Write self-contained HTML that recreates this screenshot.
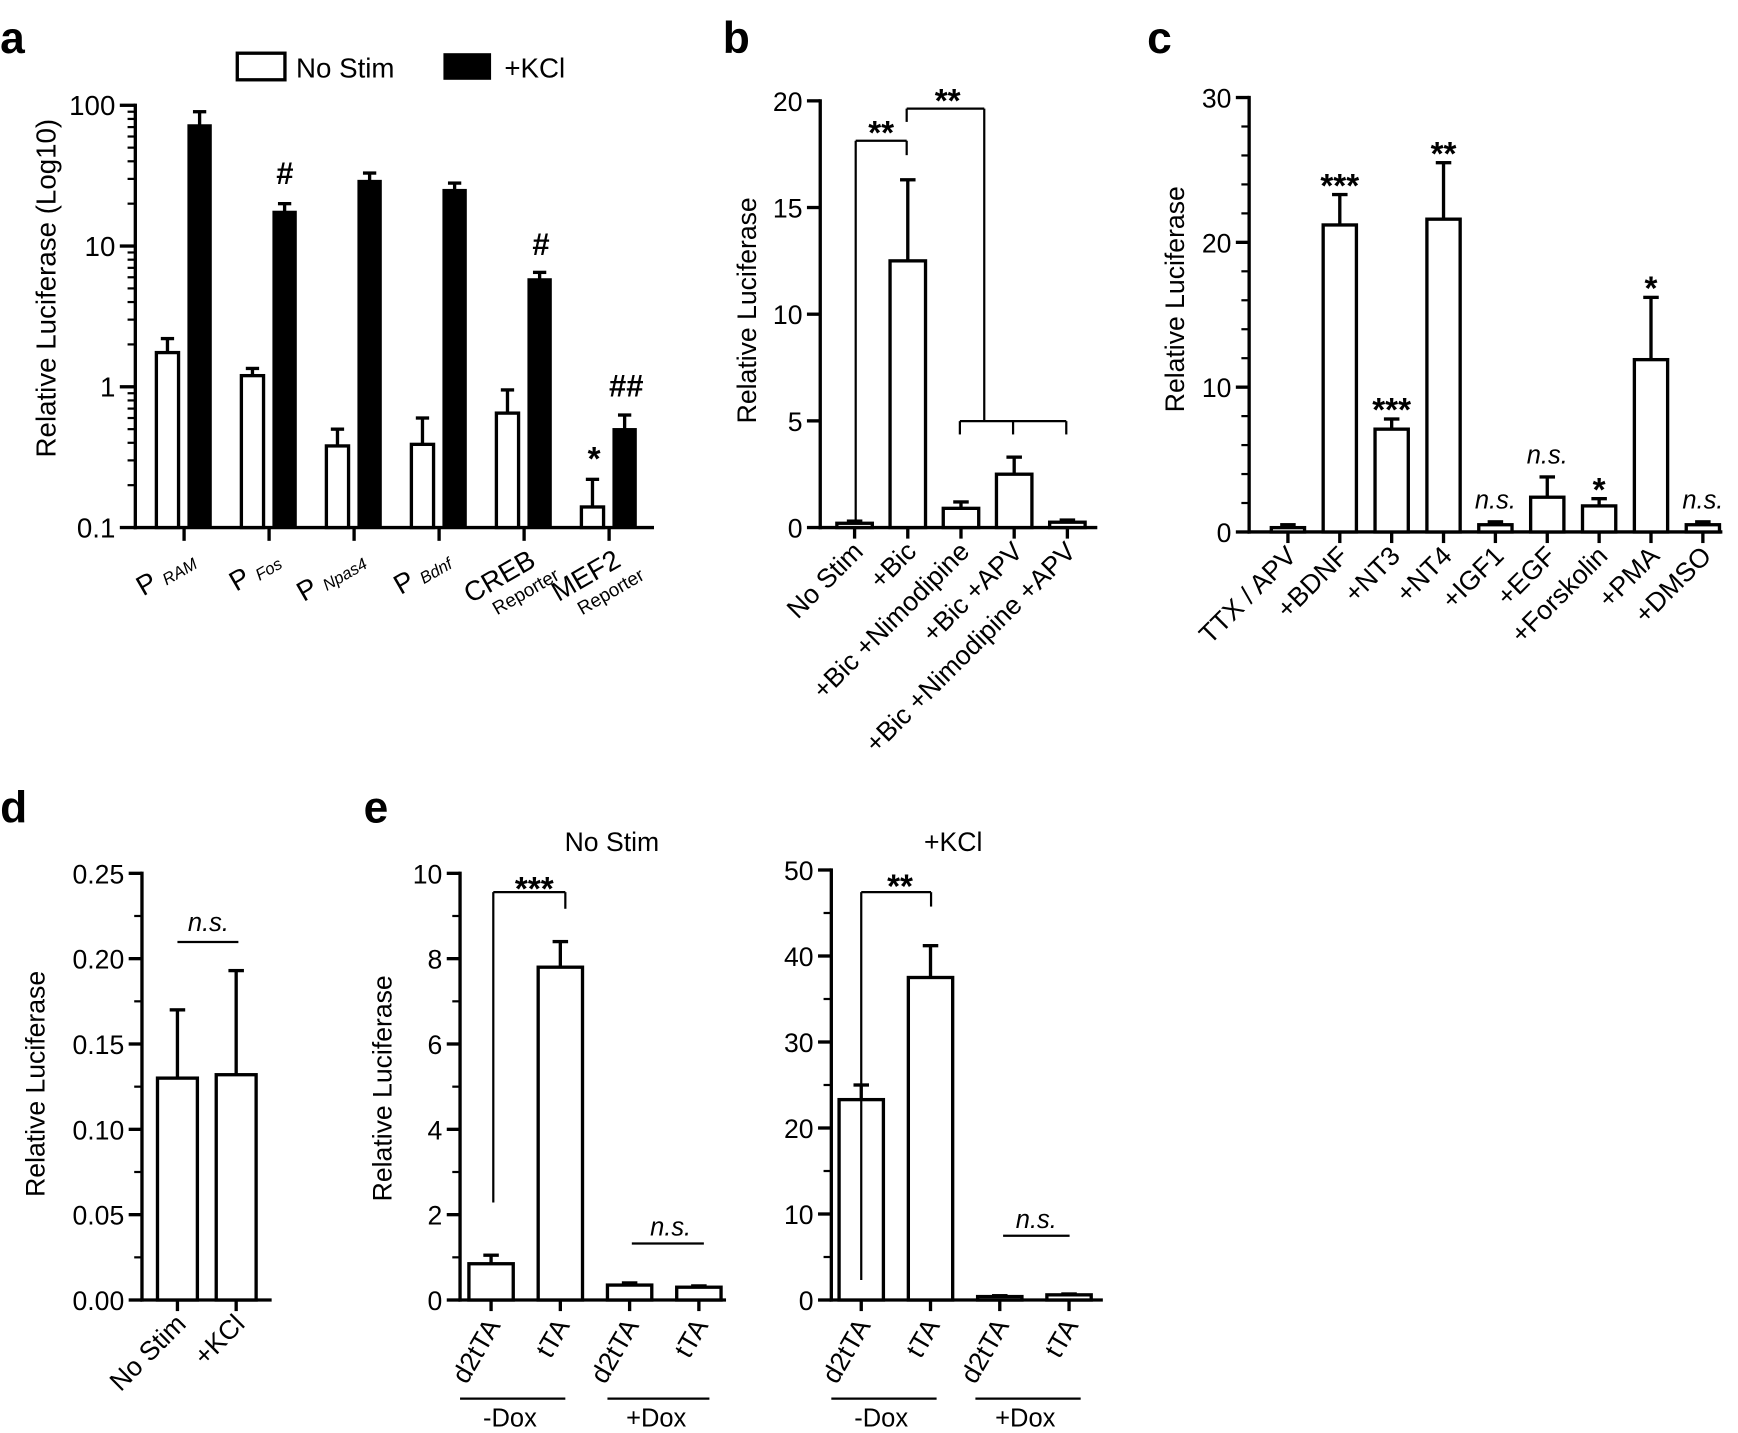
<!DOCTYPE html>
<html><head><meta charset="utf-8"><style>
body{margin:0;background:#fff;}
svg{display:block;font-family:"Liberation Sans",Arial,sans-serif;}
</style></head><body>
<svg id="fig" width="1738" height="1433" viewBox="0 0 1568 1293" xmlns="http://www.w3.org/2000/svg">
<rect width="1568" height="1293" fill="#fff"/>
<g font-weight="bold" font-size="40">
<text x="0" y="48">a</text>
<text x="652" y="48">b</text>
<text x="1035" y="48">c</text>
<text x="0" y="742">d</text>
<text x="328" y="742">e</text>
</g>
<g id="root"></g>
</svg>
<script>
// Panel a (log scale)
const aCats=["RAM","Fos","Npas4","Bdnf","CREB","MEF2"];
const aNoStim=[1.75,1.2,0.38,0.39,0.65,0.14];
const aNoStimErr=[2.2,1.35,0.5,0.6,0.95,0.22];
const aKCl=[72,17.5,29,25,5.8,0.5];
const aKClErr=[90,20,33,28,6.5,0.63];
const aTicks=[0.1,1,10,100];
// Panel b
const bCats=["No Stim","+Bic","+Bic +Nimodipine","+Bic +APV","+Bic +Nimodipine +APV"];
const bVals=[0.2,12.5,0.9,2.5,0.25];
const bErr=[0.3,16.3,1.2,3.3,0.35];
const bTicks=[0,5,10,15,20];
// Panel c
const cCats=["TTX / APV","+BDNF","+NT3","+NT4","+IGF1","+EGF","+Forskolin","+PMA","+DMSO"];
const cVals=[0.3,21.2,7.1,21.6,0.5,2.4,1.8,11.9,0.5];
const cErr=[0.5,23.3,7.8,25.5,0.7,3.8,2.3,16.2,0.7];
const cSig=["","***","***","**","n.s.","n.s.","*","*","n.s."];
const cTicks=[0,10,20,30];
// Panel d
const dCats=["No Stim","+KCl"];
const dVals=[0.13,0.132];
const dErr=[0.17,0.193];
const dTicks=[0,0.05,0.10,0.15,0.20,0.25];
// Panel e
const eCats=["d2tTA","tTA","d2tTA","tTA"];
const eLeftVals=[0.85,7.8,0.35,0.3];
const eLeftErr=[1.05,8.4,0.4,0.33];
const eLeftTicks=[0,2,4,6,8,10];
const eRightVals=[23.3,37.5,0.4,0.6];
const eRightErr=[25,41.2,0.5,0.7];
const eRightTicks=[0,10,20,30,40,50];

const NS="http://www.w3.org/2000/svg";
const root=document.getElementById('root');
function mk(tag,attrs,parent,txt){const e=document.createElementNS(NS,tag);for(const k in attrs)e.setAttribute(k,attrs[k]);if(txt!==undefined)e.textContent=txt;(parent||root).appendChild(e);return e;}
function ln(x1,y1,x2,y2,w,p){return mk('line',{x1,y1,x2,y2,stroke:'#000','stroke-width':w||3},p);}
function txt(x,y,s,size,anchor,p,extra){const e=mk('text',Object.assign({x,y,'font-size':size,'text-anchor':anchor||'middle'},extra||{}),p,s);return e;}

function linearPanel(o){
  const g=mk('g',{});
  
  
  const y=v=>o.y0-(v-o.min)/(o.max-o.min)*(o.y0-o.yTop);
  ln(o.ax,o.y0+1.5,o.ax,o.yTop-1.5,3,g);
  ln(o.ax-1.5,o.y0,o.axEnd,o.y0,3,g);
  o.ticks.forEach(t=>{const yy=y(t);ln(o.ax-12,yy,o.ax,yy,3,g);
    const tl=txt(o.ax-16,yy+9,o.fmt?o.fmt(t):String(t),24,'end',g);
    
    });
  if(o.minor){for(let v=o.min;v<=o.max+1e-9;v+=o.minor){ln(o.ax-7,y(v),o.ax,y(v),2,g);}}
  const yl=txt(0,0,'Relative Luciferase',24,'middle',g,{transform:`translate(${o.ylx},${o.yly}) rotate(-90)`});
  
  
  o.vals.forEach((v,i)=>{const cx=o.x0+i*o.dx;
    const b=mk('rect',{x:cx-o.bw/2,y:y(v),width:o.bw,height:o.y0-y(v),fill:'#fff',stroke:'#000','stroke-width':3},g);
    
    
    ln(cx,y(v),cx,y(o.err[i]),3,g);ln(cx-7,y(o.err[i]),cx+7,y(o.err[i]),3,g);
    ln(cx,o.y0,cx,o.y0+10,3,g);
    const l=txt(0,0,o.cats[i],24,'end',g,{transform:`translate(${cx+9},${o.y0+23}) rotate(${o.rot})`});
    
    
  });
  return {g,y};
}

// ---- Panel a ----
(function(){
  const g=mk('g',{});
  
  
  const ax=122,y0=476,dec=127;
  const y=v=>y0-(Math.log10(v)+1)*dec;
  ln(ax,y0+1.5,ax,y(100)-1.5,3,g);ln(ax-1.5,y0,590,y0,3,g);
  aTicks.forEach(t=>{ln(ax-14,y(t),ax,y(t),3,g);const l=txt(ax-18,y(t)+9,String(t),25,'end',g);
    
    });
  for(let d=0.1;d<100;d*=10){for(let k=2;k<10;k++)ln(ax-7,y(d*k),ax,y(d*k),2,g);}
  const yl=txt(0,0,'Relative Luciferase (Log10)',25,'middle',g,{transform:'translate(50,260) rotate(-90)'});
  
  
  const sub=[["P","RAM"],["P","Fos"],["P","Npas4"],["P","Bdnf"],["CREB","Reporter"],["MEF2","Reporter"]];
  aCats.forEach((c,i)=>{const t=166+i*76.7;
    ln(t,y0,t,y0+12,3,g);
    const w=mk('rect',{x:t-25,y:y(aNoStim[i]),width:20,height:y0-y(aNoStim[i]),fill:'#fff',stroke:'#000','stroke-width':3},g);
    
    
    ln(t-15,y(aNoStim[i]),t-15,y(aNoStimErr[i]),3,g);ln(t-21,y(aNoStimErr[i]),t-9,y(aNoStimErr[i]),3,g);
    const b=mk('rect',{x:t+4,y:y(aKCl[i]),width:20,height:y0-y(aKCl[i]),fill:'#000',stroke:'#000','stroke-width':2},g);
    
    
    ln(t+14,y(aKCl[i]),t+14,y(aKClErr[i]),3,g);ln(t+8,y(aKClErr[i]),t+20,y(aKClErr[i]),3,g);
    const s=sub[i];
    const lab=mk('text',{transform:`translate(${t+12},${y0+34}) rotate(-30)`,'text-anchor':'end','font-size':25},g);
    
    
    if(i<4){mk('tspan',{},lab,s[0]+' ');mk('tspan',{'font-size':15,'font-style':'italic',dy:2},lab,s[1]);}
    else{mk('tspan',{},lab,s[0]);mk('tspan',{'font-size':17,x:12,dy:21},lab,s[1]);}
  });
  txt(257,166,'#',28,'middle',g,{'font-weight':'bold'});
  txt(488,230,'#',28,'middle',g,{'font-weight':'bold'});
  txt(565,358,'##',28,'middle',g,{'font-weight':'bold'});
  txt(536,424,'*',30,'middle',g,{'font-weight':'bold'});
  const l1=mk('rect',{x:214,y:48,width:43,height:24,fill:'#fff',stroke:'#000','stroke-width':3},g);
  
  
  txt(267,70,'No Stim',25,'start',g);
  const l2=mk('rect',{x:400,y:48,width:43,height:24,fill:'#000'},g);
  
  
  txt(455,70,'+KCl',25,'start',g);
})();

// ---- Panel b ----
(function(){
  const p=linearPanel({name:'panel-b-chart',ax:740,axEnd:990,y0:476,yTop:91,min:0,max:20,ticks:bTicks,
    vals:bVals,err:bErr,cats:bCats,x0:771,dx:48,bw:32,rot:-45,ylx:682,yly:280});
  const g=p.g,y=p.y;
  ln(772,y(0.3),772,127,2,g);ln(772,127,818,127,2,g);ln(818,127,818,140,2,g);
  txt(795,130,'**',30,'middle',g,{'font-weight':'bold'});
  ln(818,110,818,98,2,g);ln(818,98,888,98,2,g);ln(888,98,888,380,2,g);
  ln(866,380,962,380,2,g);[866,914,962].forEach(x=>ln(x,380,x,392,2,g));
  txt(855,101,'**',30,'middle',g,{'font-weight':'bold'});
})();

// ---- Panel c ----
(function(){
  const p=linearPanel({name:'panel-c-chart',ax:1127,axEnd:1554,y0:480,yTop:88,min:0,max:30,ticks:cTicks,minor:2,
    vals:cVals,err:cErr,cats:cCats,x0:1162,dx:46.8,bw:30,rot:-45,ylx:1068,yly:270});
  cSig.forEach((s,i)=>{if(!s)return;const x=1162+i*46.8;const yy=p.y(cErr[i])-(s==='n.s.'?12:10);
    if(s==='n.s.')txt(x,yy,s,23,'middle',p.g,{'font-style':'italic'});
    else txt(x,yy+12,s,30,'middle',p.g,{'font-weight':'bold'});});
})();

// ---- Panel d ----
(function(){
  const p=linearPanel({name:'panel-d-chart',ax:128,axEnd:245,y0:1173,yTop:788,min:0,max:0.25,ticks:dTicks,minor:0.025,fmt:v=>v.toFixed(2),
    vals:dVals,err:dErr,cats:dCats,x0:160,dx:53,bw:36,rot:-45,ylx:40,yly:978});
  ln(160,850,215,850,2,p.g);
  txt(188,840,'n.s.',23,'middle',p.g,{'font-style':'italic'});
})();

// ---- Panel e ----
(function(){
  const p=linearPanel({name:'panel-e-left-chart',ax:415,axEnd:655,y0:1173,yTop:788,min:0,max:10,ticks:eLeftTicks,minor:1,
    vals:eLeftVals,err:eLeftErr,cats:eCats,x0:443,dx:62.5,bw:40,rot:-60,ylx:353,yly:982});
  const g=p.g;
  txt(552,768,'No Stim',24,'middle',g);
  ln(445,1085,445,805,2,g);ln(445,805,510,805,2,g);ln(510,805,510,820,2,g);
  txt(482,812,'***',30,'middle',g,{'font-weight':'bold'});
  ln(570,1122,635,1122,2,g);txt(605,1115,'n.s.',23,'middle',g,{'font-style':'italic'});
  ln(415,1262,510,1262,2,g);txt(460,1287,'-Dox',23,'middle',g);
  ln(548,1262,640,1262,2,g);txt(592,1287,'+Dox',23,'middle',g);
})();
(function(){
  const p=linearPanel({name:'panel-e-right-chart',ax:750,axEnd:995,y0:1173,yTop:785,min:0,max:50,ticks:eRightTicks,minor:5,
    vals:eRightVals,err:eRightErr,cats:eCats,x0:777,dx:62.5,bw:40,rot:-60,ylx:9999,yly:0});
  const g=p.g;
  txt(860,768,'+KCl',24,'middle',g);
  ln(777,1155,777,805,2,g);ln(777,805,840,805,2,g);ln(840,805,840,818,2,g);
  txt(812,810,'**',30,'middle',g,{'font-weight':'bold'});
  ln(905,1115,965,1115,2,g);txt(935,1108,'n.s.',23,'middle',g,{'font-style':'italic'});
  ln(750,1262,845,1262,2,g);txt(795,1287,'-Dox',23,'middle',g);
  ln(880,1262,975,1262,2,g);txt(925,1287,'+Dox',23,'middle',g);
})();
</script>
</body></html>
